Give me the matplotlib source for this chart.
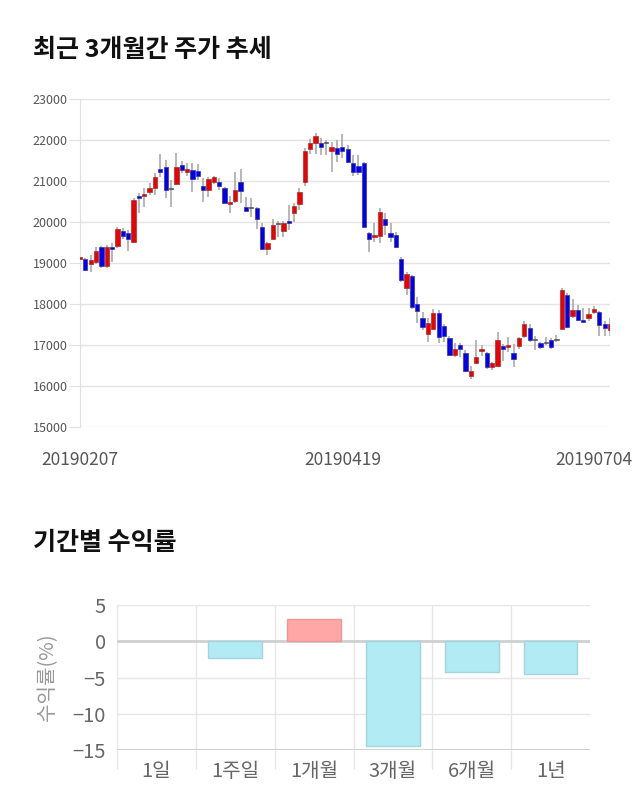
import matplotlib
matplotlib.use("Agg")
import matplotlib.pyplot as plt
import numpy as np

plt.rcParams['font.family'] = ['Noto Sans CJK KR', 'DejaVu Sans']

# --- 3개월 주가 (일봉) ---
opens = [19090, 19090, 18980, 19030, 19380, 18930, 19380, 19410, 19780, 19720,
         19520, 20630, 20630, 20720, 20820, 21290, 21350, 20800, 20920, 21380,
         21230, 21280, 21240, 20880, 20780, 20980, 20980, 20820, 20430, 20520,
         20980, 20370, 20330, 20330, 19870, 19330, 19580, 19940, 19780, 20030,
         20230, 20430, 20980, 21770, 21930, 21930, 21930, 21720, 21800, 21840,
         21780, 21430, 21370, 21430, 19720, 19630, 19670, 20070, 19720, 19680,
         19090, 18380, 18680, 17990, 17670, 17280, 17380, 17770, 17460, 17170,
         16760, 17000, 16810, 16250, 16560, 16850, 16810, 16460, 16500, 16970,
         16950, 16810, 16970, 17220, 17410, 17110, 17050, 17050, 17110, 17110,
         17400, 18210, 17700, 17860, 17620, 17660, 17800, 17800, 17520, 17360]
closes = [19140, 18830, 19070, 19290, 18930, 19380, 19330, 19830, 19670, 19580,
          20540, 20580, 20680, 20830, 21090, 21230, 20780, 20800, 21330, 21270,
          21290, 21040, 21120, 20780, 21040, 21090, 20880, 20470, 20480, 20780,
          20760, 20280, 20330, 20070, 19330, 19480, 19930, 19940, 19980, 19980,
          20390, 20740, 21730, 21930, 22100, 21840, 21930, 21840, 21670, 21720,
          21470, 21230, 21230, 19890, 19580, 19680, 20240, 19930, 19630, 19380,
          18590, 18720, 17930, 17840, 17430, 17530, 17770, 17200, 17210, 16760,
          16910, 16910, 16360, 16360, 16700, 16910, 16460, 16560, 17110, 16910,
          17000, 16660, 17170, 17520, 17110, 17110, 16950, 17050, 16950, 17110,
          18330, 17440, 17860, 17600, 17560, 17760, 17870, 17490, 17410, 17520]
highs = [19380, 19110, 19200, 19400, 19410, 19440, 19480, 19870, 19850, 19800,
         20580, 20700, 20820, 20940, 21190, 21670, 21510, 21020, 21690, 21500,
         21430, 21430, 21410, 21070, 21090, 21120, 21070, 20860, 20630, 21230,
         21290, 20620, 20580, 20370, 19970, 19520, 20070, 20020, 20030, 20410,
         20470, 20820, 21800, 22020, 22180, 22040, 22000, 21960, 22000, 22150,
         21880, 21630, 21630, 21470, 19760, 19970, 20330, 20210, 19970, 19760,
         19140, 18790, 18710, 18180, 17810, 17650, 17890, 17850, 17520, 17230,
         17050, 17050, 16870, 16500, 17110, 16990, 16820, 16580, 17310, 17030,
         17190, 17030, 17190, 17580, 17520, 17230, 17070, 17190, 17170, 17250,
         18380, 18280, 18110, 17970, 17910, 17910, 17950, 17840, 17580, 17660]
lows = [19070, 18800, 18790, 18980, 18890, 18890, 19030, 19360, 19580, 19290,
        19480, 20230, 20370, 20660, 20670, 21090, 20580, 20370, 20900, 21190,
        21110, 20740, 21020, 20500, 20620, 20930, 20780, 20460, 20230, 20460,
        20460, 20270, 20130, 19820, 19320, 19190, 19580, 19630, 19630, 19800,
        20010, 20290, 20890, 21670, 21670, 21630, 21630, 21230, 21470, 21550,
        21430, 21120, 21150, 19870, 19280, 19520, 19480, 19680, 19520, 19360,
        18540, 18220, 17890, 17530, 17370, 17080, 17370, 17040, 17070, 16740,
        16700, 16700, 16330, 16170, 16540, 16730, 16420, 16380, 16460, 16600,
        16820, 16460, 16910, 17170, 17070, 16870, 16910, 17000, 16910, 17070,
        17400, 17410, 17660, 17580, 17560, 17580, 17760, 17220, 17220, 17230]
date_ticks = [0, 49, 96]
date_labels = ['20190207', '20190419', '20190704']

# --- 기간별 수익률 ---
periods = ['1일', '1주일', '1개월', '3개월', '6개월', '1년']
returns = [0.0, -2.35, 3.1, -14.45, -4.2, -4.45]

fig = plt.figure(figsize=(6.4, 8.1), dpi=100)

fig.text(33 / 640, 1 - 50 / 810, '최근 3개월간 주가 추세', fontsize=18,
         fontweight='bold', va='center', ha='left', color='#111')
fig.text(33 / 640, 1 - 543 / 810, '기간별 수익률', fontsize=18,
         fontweight='bold', va='center', ha='left', color='#111')

# 캔들 차트
ax = fig.add_axes([80 / 640, 1 - 427 / 810, 530 / 640, 328 / 810])
o = np.array(opens)
c = np.array(closes)
x = np.arange(len(o))
up = c > o
down = c < o
flat = c == o
ax.vlines(x, lows, highs, color='#aaaaaa', lw=1.2, zorder=2)
bottom = np.minimum(o, c)
height = np.maximum(np.abs(c - o), 25)
ax.bar(x[up], height[up], bottom=bottom[up], width=0.8,
       color='#ee0000', edgecolor='#993333', lw=0.5, zorder=3)
ax.bar(x[down], height[down], bottom=bottom[down], width=0.8,
       color='#0000ee', edgecolor='#333399', lw=0.5, zorder=3)
ax.bar(x[flat], height[flat], bottom=bottom[flat], width=0.8,
       color='#555555', edgecolor='#555555', lw=0.5, zorder=3)

ax.set_xlim(0, 99)
ax.set_ylim(15000, 23000)
ax.set_yticks(range(15000, 23001, 1000))
ax.set_xticks(date_ticks)
ax.set_xticklabels(date_labels)
ax.grid(axis='y', color='#e3e3e3', lw=1)
ax.set_axisbelow(True)
for s in ['top', 'right', 'bottom']:
    ax.spines[s].set_visible(False)
ax.spines['left'].set_color('#e0e0e0')
ax.tick_params(axis='y', length=8, color='#e0e0e0', labelsize=9,
               labelcolor='#555', pad=1)
ax.tick_params(axis='x', length=0, labelsize=12.5, labelcolor='#555', pad=17)

# 수익률 막대
bx = fig.add_axes([117 / 640, 1 - 750 / 810, 473 / 640, 145 / 810])
colors = ['#ffa6a6' if r > 0 else '#b2ebf4' for r in returns]
edges = ['#e89999' if r > 0 else ('#a0d6df' if r < 0 else 'none') for r in returns]
bx.bar(range(len(periods)), returns, width=0.68, color=colors,
       edgecolor=edges, lw=1, zorder=3)
bx.set_xlim(-0.5, len(periods) - 0.5)
bx.set_ylim(-15, 5)
bx.set_yticks([5, 0, -5, -10, -15])
bx.set_xticks(range(len(periods)))
bx.set_xticklabels(periods)
bx.set_xticks(np.arange(-0.5, len(periods) - 1, 1), minor=True)
bx.grid(axis='y', color='#e6e6e6', lw=1)
bx.grid(axis='x', which='minor', color='#e6e6e6', lw=1)
bx.set_axisbelow(True)
bx.axhline(0, color='#d0d0d0', lw=2, zorder=2)
bx.axhline(-15, color='#c8c8c8', lw=1.2, zorder=2)
for s in ['top', 'right', 'bottom', 'left']:
    bx.spines[s].set_visible(False)
bx.tick_params(axis='y', length=0, labelsize=14.5, labelcolor='#666', pad=8)
bx.tick_params(axis='x', which='major', length=0, labelsize=14.5,
               labelcolor='#666', pad=8)
bx.tick_params(axis='x', which='minor', length=14, color='#e6e6e6', width=1)
bx.set_ylabel('수익률(%)', fontsize=14.5, color='#999', labelpad=10)

fig.savefig('out.png', dpi=100)
